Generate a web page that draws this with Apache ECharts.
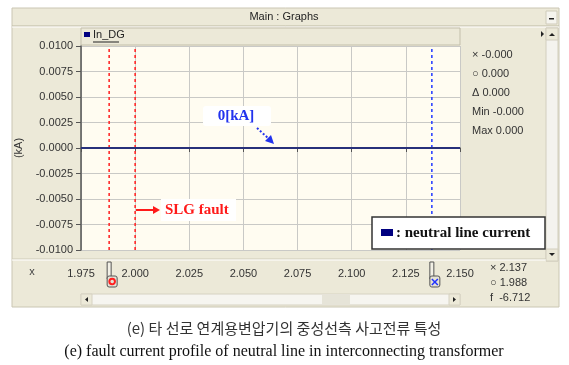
<!DOCTYPE html>
<html><head><meta charset="utf-8">
<script src="https://cdn.jsdelivr.net/npm/echarts@6/dist/echarts.min.js"></script>
<style>html,body{margin:0;padding:0;background:#fff}#c{width:569px;height:365px}</style>
</head><body><div id="c"></div>
<script>
// ---- data ----
const timeValues = [1.975, 2.000, 2.050, 2.100, 2.150];
const currentValues = [0, 0, 0, 0, 0];
const xRange = [1.975, 2.150, 0.025];
const yRange = [-0.0100, 0.0100, 0.0025];
const redCursors = [1.988, 2.000];
const blueCursors = [2.137];
const seriesName = 'In_DG';
const windowTitle = 'Main : Graphs';
const sideReadouts = ['\u00d7 -0.000', '\u25cb 0.000', '\u0394 0.000', 'Min -0.000', 'Max 0.000'];
const bottomReadouts = ['\u00d7 2.137', '\u25cb 1.988', 'f  -6.712'];
const annotZero = '0[kA]';
const annotFault = 'SLG fault';
const legendText = ': neutral line current';
const captionKo = '(e) 타 선로 연계용변압기의 중성선측 사고전류 특성';
const captionEn = '(e) fault current profile of neutral line in interconnecting transformer';

const UI = 'Liberation Sans, Arial, sans-serif';
const SERIF = 'Liberation Serif, Times New Roman, serif';
const chart = echarts.init(document.getElementById('c'), null, {renderer: 'canvas'});

function baseGraphics() {
  const g = [];
  const bg = -10;
  g.push({type: 'rect', z: bg, shape: {x: 12, y: 8, width: 547, height: 299}, style: {fill: '#ECE9D8', stroke: '#CAC6B3'}});
  g.push({type: 'line', z: bg, shape: {x1: 12, y1: 26, x2: 559, y2: 26}, style: {stroke: '#BDB8A2'}});
  g.push({type: 'line', z: bg, shape: {x1: 12, y1: 27, x2: 559, y2: 27}, style: {stroke: '#FFFFFF'}});
  g.push({type: 'text', z: bg, style: {text: windowTitle, x: 284, y: 17, align: 'center', verticalAlign: 'middle', font: '11px ' + UI, fill: '#222'}});
  g.push({type: 'rect', z: bg, shape: {x: 546, y: 11, width: 11, height: 13}, style: {fill: '#F5F4EE', stroke: '#CFCBBA'}});
  g.push({type: 'rect', z: bg, shape: {x: 549, y: 18, width: 5, height: 1.5}, style: {fill: '#222'}});
  // legend strip
  g.push({type: 'rect', z: bg, shape: {x: 81, y: 28, width: 379, height: 17}, style: {fill: '#ECE9D8', stroke: '#C3BFAB'}});
  g.push({type: 'rect', z: bg, shape: {x: 84, y: 32, width: 6, height: 5}, style: {fill: '#000080'}});
  g.push({type: 'text', z: bg, style: {text: seriesName, x: 93, y: 35, verticalAlign: 'middle', font: '11px ' + UI, fill: '#222'}});
  g.push({type: 'line', z: bg, shape: {x1: 93, y1: 42, x2: 119, y2: 42}, style: {stroke: '#222'}});
  g.push({type: 'polygon', z: bg, shape: {points: [[541, 31], [544, 34], [541, 37]]}, style: {fill: '#222'}});
  // right scrollbar
  g.push({type: 'rect', z: bg, shape: {x: 546, y: 28, width: 12, height: 233}, style: {fill: '#F4F3EE', stroke: '#D2CEBE'}});
  g.push({type: 'rect', z: bg, shape: {x: 546, y: 28, width: 12, height: 12}, style: {fill: '#ECE9D8', stroke: '#D2CEBE'}});
  g.push({type: 'polygon', z: bg, shape: {points: [[549, 36], [552, 33], [555, 36]]}, style: {fill: '#222'}});
  g.push({type: 'rect', z: bg, shape: {x: 546, y: 249, width: 12, height: 12}, style: {fill: '#ECE9D8', stroke: '#D2CEBE'}});
  g.push({type: 'polygon', z: bg, shape: {points: [[549, 253], [555, 253], [552, 256]]}, style: {fill: '#222'}});
  // dividers
  g.push({type: 'line', z: bg, shape: {x1: 12, y1: 259, x2: 546, y2: 259}, style: {stroke: '#CFCBB8'}});
  g.push({type: 'line', z: bg, shape: {x1: 12, y1: 260, x2: 546, y2: 260}, style: {stroke: '#FFFFFF'}});
  g.push({type: 'text', z: bg, style: {text: 'x', x: 32, y: 272, align: 'center', verticalAlign: 'middle', font: '11px ' + UI, fill: '#444'}});
  // horizontal scrollbar
  g.push({type: 'rect', z: bg, shape: {x: 81, y: 294, width: 379, height: 11}, style: {fill: '#F6F5F0', stroke: '#D6D2C2'}});
  g.push({type: 'rect', z: bg, shape: {x: 322, y: 295, width: 28, height: 9}, style: {fill: '#E6E4D8'}});
  g.push({type: 'rect', z: bg, shape: {x: 81, y: 294, width: 11, height: 11}, style: {fill: '#ECE9D8', stroke: '#D6D2C2'}});
  g.push({type: 'polygon', z: bg, shape: {points: [[88, 297], [85, 299.5], [88, 302]]}, style: {fill: '#222'}});
  g.push({type: 'rect', z: bg, shape: {x: 449, y: 294, width: 11, height: 11}, style: {fill: '#ECE9D8', stroke: '#D6D2C2'}});
  g.push({type: 'polygon', z: bg, shape: {points: [[453, 297], [456, 299.5], [453, 302]]}, style: {fill: '#222'}});
  // readouts
  sideReadouts.forEach((t, i) => g.push({type: 'text', z: bg, style: {text: t, x: 472, y: 55 + 19 * i, verticalAlign: 'middle', font: '11px ' + UI, fill: '#333'}}));
  bottomReadouts.forEach((t, i) => g.push({type: 'text', z: bg, style: {text: t, x: 490, y: 268 + 15 * i, verticalAlign: 'middle', font: '11px ' + UI, fill: '#333'}}));
  // annotations
  const ov = 100;
  g.push({type: 'rect', z: ov, shape: {x: 203, y: 106, width: 68, height: 20, r: 3}, style: {fill: '#FFFFFF'}});
  g.push({type: 'text', z: ov, style: {text: annotZero, x: 236, y: 116, align: 'center', verticalAlign: 'middle', font: 'bold 15px ' + SERIF, fill: '#2233EE'}});
  g.push({type: 'line', z: ov, shape: {x1: 257, y1: 128, x2: 269, y2: 139}, style: {stroke: '#2233EE', lineWidth: 2, lineDash: [2, 2]}});
  g.push({type: 'polygon', z: ov, shape: {points: [[274, 144], [265, 141], [271, 135]]}, style: {fill: '#2233EE'}});
  g.push({type: 'rect', z: ov, shape: {x: 161, y: 199, width: 75, height: 22}, style: {fill: '#FFFFFF'}});
  g.push({type: 'line', z: ov, shape: {x1: 136, y1: 210, x2: 154, y2: 210}, style: {stroke: '#FF1A1A', lineWidth: 2}});
  g.push({type: 'polygon', z: ov, shape: {points: [[153, 206], [160, 210], [153, 214]]}, style: {fill: '#FF1A1A'}});
  g.push({type: 'text', z: ov, style: {text: annotFault, x: 165, y: 210, verticalAlign: 'middle', font: 'bold 15px ' + SERIF, fill: '#FF1A1A'}});
  g.push({type: 'rect', z: ov, shape: {x: 372, y: 217, width: 173, height: 32}, style: {fill: '#FFFFFF', stroke: '#333', lineWidth: 1.5}});
  g.push({type: 'rect', z: ov, shape: {x: 381, y: 229, width: 12, height: 7}, style: {fill: '#000080'}});
  g.push({type: 'text', z: ov, style: {text: legendText, x: 396, y: 233, verticalAlign: 'middle', font: 'bold 15px ' + SERIF, fill: '#111'}});
  // captions
  g.push({type: 'text', z: ov, style: {text: captionKo, x: 284, y: 328, align: 'center', verticalAlign: 'middle', font: '15px Noto Sans CJK KR', fill: '#333'}});
  g.push({type: 'text', z: ov, style: {text: captionEn, x: 284, y: 352, align: 'center', verticalAlign: 'middle', font: '16px ' + SERIF, fill: '#111'}});
  return g;
}

// vertical dashed cursor lines drawn as two-point line series through the axes
const cursorSeries = (v, color) => ({
  type: 'line', silent: true, showSymbol: false, symbol: 'none', z: 4,
  data: [[v, yRange[0]], [v, yRange[1]]],
  lineStyle: {color: color, type: [3, 3], width: 1.6, opacity: 1},
  itemStyle: {color: color},
  emphasis: {disabled: true}
});

const option = {
  animation: false,
  backgroundColor: '#FFFFFF',
  grid: {left: 81, top: 46, width: 379, height: 204, show: true, backgroundColor: '#FFFCF1', borderWidth: 0},
  xAxis: {
    type: 'value', min: xRange[0], max: xRange[1], interval: xRange[2], offset: 12,
    axisLine: {show: true, lineStyle: {color: '#555', width: 1.5}},
    axisTick: {show: true, length: 4, lineStyle: {color: '#555'}},
    axisLabel: {formatter: v => v.toFixed(3), fontSize: 11, fontFamily: UI, color: '#333', margin: 6},
    splitLine: {show: true, lineStyle: {color: '#C9C9C6'}}
  },
  yAxis: {
    type: 'value', min: yRange[0], max: yRange[1], interval: yRange[2],
    name: '(kA)', nameLocation: 'middle', nameGap: 50,
    nameTextStyle: {fontSize: 11, fontFamily: UI, color: '#333'},
    axisLine: {show: true, lineStyle: {color: '#555', width: 1.5}},
    axisTick: {show: true, length: 5, lineStyle: {color: '#555'}},
    axisLabel: {formatter: v => v.toFixed(4), fontSize: 11, fontFamily: UI, color: '#333', margin: 8},
    splitLine: {show: true, lineStyle: {color: '#C9C9C6'}}
  },
  series: [
    ...redCursors.map(v => cursorSeries(v, '#FF2A2A')),
    ...blueCursors.map(v => cursorSeries(v, '#2F45FF')),
    {name: seriesName, type: 'line', showSymbol: false, symbol: 'none', z: 5,
     data: timeValues.map((t, i) => [t, currentValues[i]]),
     lineStyle: {color: '#27307A', width: 2}}
  ],
  graphic: {elements: baseGraphics()}
};
chart.setOption(option);

// cursor markers below the x axis, positioned from data
const g2 = baseGraphics();
const addMarker = (v, color, isCircle) => {
  const px = chart.convertToPixel({gridIndex: 0}, [v, 0])[0];
  g2.push({type: 'rect', z: 50, shape: {x: px - 2, y: 262, width: 4, height: 17}, style: {fill: '#F2F0E6', stroke: '#555'}});
  g2.push({type: 'rect', z: 51, shape: {x: px - 2, y: 276, width: 10, height: 11, r: 2}, style: {fill: '#E4E2D6', stroke: '#555'}});
  if (isCircle) {
    g2.push({type: 'circle', z: 52, shape: {cx: px + 3, cy: 281.5, r: 2.8}, style: {fill: 'none', stroke: color, lineWidth: 2}});
  } else {
    g2.push({type: 'line', z: 52, shape: {x1: px, y1: 279, x2: px + 6, y2: 285}, style: {stroke: color, lineWidth: 1.5}});
    g2.push({type: 'line', z: 52, shape: {x1: px + 6, y1: 279, x2: px, y2: 285}, style: {stroke: color, lineWidth: 1.5}});
  }
};
addMarker(redCursors[0], '#FF2020', true);
addMarker(blueCursors[0], '#2233FF', false);
chart.setOption({graphic: {elements: g2}});
</script></body></html>
